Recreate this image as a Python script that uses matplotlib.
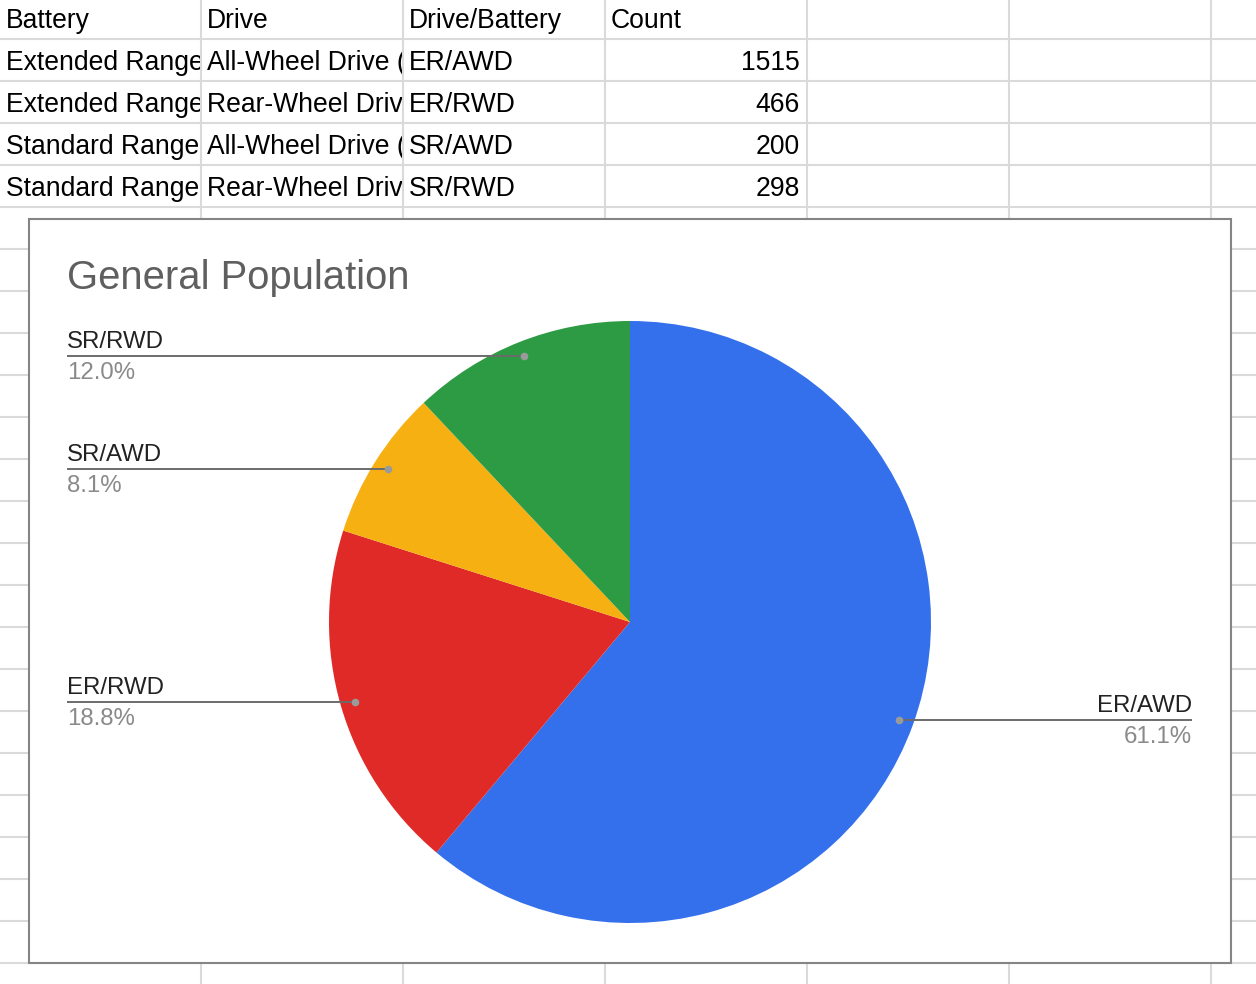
import matplotlib
matplotlib.use("Agg")
import matplotlib.pyplot as plt
from matplotlib.patches import Rectangle
from matplotlib.transforms import Bbox, TransformedBbox
from matplotlib.font_manager import FontProperties
import numpy as np

plt.rcParams['font.family'] = ['Liberation Sans', 'DejaVu Sans']

# ---- data ----
headers = ["Battery", "Drive", "Drive/Battery", "Count"]
battery = ["Extended Range", "Extended Range", "Standard Range", "Standard Range"]
drive = ["All-Wheel Drive (AWD)", "Rear-Wheel Drive (RWD)",
         "All-Wheel Drive (AWD)", "Rear-Wheel Drive (RWD)"]
combo = ["ER/AWD", "ER/RWD", "SR/AWD", "SR/RWD"]
counts = [1515, 466, 200, 298]
colors = ["#3570EC", "#E02A27", "#F7B012", "#2D9B44"]
title = "General Population"

W, H = 1256, 984
fig = plt.figure(figsize=(W / 100, H / 100), dpi=100)
renderer = fig.canvas.get_renderer()

# ---- spreadsheet background ----
bg = fig.add_axes([0, 0, 1, 1])
bg.set_xlim(0, W)
bg.set_ylim(H, 0)
bg.axis('off')

col_x = [201, 403, 605, 807, 1009, 1211]
row_y = [39 + 42 * k for k in range(23)]
grid_c = "#DADADA"
bg.vlines(col_x, 0, H, colors=grid_c, linewidth=1.5, zorder=1)
bg.hlines(row_y, 0, W, colors=grid_c, linewidth=1.5, zorder=1)

fs_tab = 19.1
fp_tab = FontProperties(family=['Liberation Sans', 'DejaVu Sans'], size=fs_tab)
cells_left = [0, 201, 403, 605]
cells_right = [201, 403, 605, 807]


def text_px(s):
    if not s:
        return 0.0
    w, _, _ = renderer.get_text_width_height_descent(s, fp_tab, ismath=False)
    return w


def cell_text(txt, col, row, ha='left'):
    right = cells_right[col]
    if ha == 'left':
        x = cells_left[col] + 6
        # spreadsheet overflow: keep characters that start inside the cell
        n = len(txt)
        while n > 1 and x + text_px(txt[:n - 1]) >= right - 1:
            n -= 1
        txt = txt[:n]
    else:
        x = right - 7
    y = 28 + 42 * row
    t = bg.text(x, y, txt, ha=ha, va='baseline', fontproperties=fp_tab,
                color='#000000', zorder=2)
    bb = TransformedBbox(Bbox([[cells_left[col] + 1, 42 * row - 3],
                               [right - 1, 42 * row + 39]]),
                         bg.transData)
    t.set_clip_box(bb)
    t.set_clip_on(True)


for c, h in enumerate(headers):
    cell_text(h, c, 0)
for i in range(len(counts)):
    cell_text(battery[i], 0, i + 1)
    cell_text(drive[i], 1, i + 1)
    cell_text(combo[i], 2, i + 1)
    cell_text(str(counts[i]), 3, i + 1, ha='right')

# chart box
bg.add_patch(Rectangle((29, 219), 1202, 744, facecolor='white',
                       edgecolor='#858585', linewidth=1.5, zorder=3))
bg.text(67, 289, title, fontsize=28.8, color='#5f5f5f', ha='left',
        va='baseline', zorder=4)

# ---- pie ----
cx, cy, r = 630, 622, 301
ax = fig.add_axes([(cx - r) / W, (H - cy - r) / H, 2 * r / W, 2 * r / H])
wedges, _ = ax.pie(counts, colors=colors, startangle=90, counterclock=False,
                   wedgeprops=dict(linewidth=0))
ax.set_xlim(-1, 1)
ax.set_ylim(-1, 1)
ax.set_aspect('equal')
ax.axis('off')

# ---- overlay for leader lines & labels ----
ov = fig.add_axes([0, 0, 1, 1])
ov.set_xlim(0, W)
ov.set_ylim(H, 0)
ov.axis('off')
ov.patch.set_alpha(0)

fig.canvas.draw()
total = sum(counts)
label_left_x = 67
label_right_x = 1192
for w, name, cnt in zip(wedges, combo, counts):
    mid = np.deg2rad((w.theta1 + w.theta2) / 2)
    p = (0.952 * np.cos(mid), 0.952 * np.sin(mid))
    disp = ax.transData.transform(p)
    dx, dy = ov.transData.inverted().transform(disp)
    pct = f"{cnt / total * 100:.1f}%"
    if dx > cx:
        lx, ha = label_right_x, 'right'
    else:
        lx, ha = label_left_x, 'left'
    ov.plot([dx, lx], [dy, dy], color='#6b6b6b', linewidth=1.4,
            solid_capstyle='butt', zorder=5)
    ov.plot([dx], [dy], 'o', color='#9a9a9a', markersize=5.5,
            markeredgewidth=0, zorder=6)
    ov.text(lx, dy - 8, name, ha=ha, va='baseline', fontsize=17.3,
            color='#222222', zorder=6)
    ov.text(lx, dy + 23, pct, ha=ha, va='baseline', fontsize=17.3,
            color='#8a8a8a', zorder=6)

fig.savefig("out.png", dpi=100)
